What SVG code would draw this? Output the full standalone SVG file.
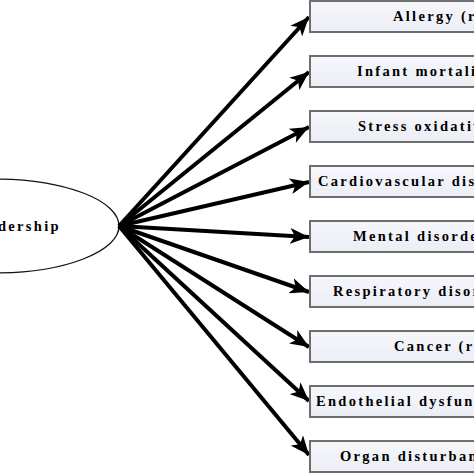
<svg xmlns="http://www.w3.org/2000/svg" width="474" height="474" viewBox="0 0 474 474">
<defs>
<linearGradient id="bf" x1="0" y1="0" x2="0" y2="1">
<stop offset="0" stop-color="#f6f7fb"/>
<stop offset="1" stop-color="#eceef6"/>
</linearGradient>
<marker id="ah" markerUnits="userSpaceOnUse" markerWidth="22" markerHeight="16" refX="19" refY="8" orient="auto">
<path d="M0,0 L19,8 L0,16 L5,8 Z" fill="#000"/>
</marker>
<style>
.box{fill:url(#bf);stroke:#6e6e6e;stroke-width:2}
.t{font-family:"Liberation Serif","Times New Roman",serif;font-weight:bold;font-size:14.5px;letter-spacing:2.3px;fill:#000}
.c{stroke:#000;stroke-width:4;fill:none;marker-end:url(#ah)}
</style>
</defs>
<rect width="474" height="474" fill="#fff"/>
<g id="center">
<ellipse cx="-5" cy="226" rx="124" ry="47" fill="#fff" stroke="#111" stroke-width="1.3"/>
<text class="t" x="-2" y="231">dership</text>
</g>
<g id="connectors">
<line class="c" x1="119" y1="226" x2="309" y2="17"/>
<line class="c" x1="119" y1="226" x2="309" y2="72"/>
<line class="c" x1="119" y1="226" x2="309" y2="127"/>
<line class="c" x1="119" y1="226" x2="309" y2="182"/>
<line class="c" x1="119" y1="226" x2="309" y2="237"/>
<line class="c" x1="119" y1="226" x2="309" y2="292"/>
<line class="c" x1="119" y1="226" x2="309" y2="347"/>
<line class="c" x1="119" y1="226" x2="309" y2="401"/>
<line class="c" x1="119" y1="226" x2="309" y2="455"/>
</g>
<g id="n1"><rect class="box" x="310" y="1" width="200" height="31"/><text class="t" x="393" y="21">Allergy (r</text></g>
<g id="n2"><rect class="box" x="310" y="56" width="200" height="31"/><text class="t" x="357" y="76">Infant mortali</text></g>
<g id="n3"><rect class="box" x="310" y="111" width="200" height="31"/><text class="t" x="358" y="131">Stress oxidativ</text></g>
<g id="n4"><rect class="box" x="310" y="166" width="200" height="31"/><text class="t" x="318" y="186">Cardiovascular dis</text></g>
<g id="n5"><rect class="box" x="310" y="221" width="200" height="31"/><text class="t" x="353" y="241">Mental disorde</text></g>
<g id="n6"><rect class="box" x="310" y="276" width="200" height="31"/><text class="t" x="333" y="296">Respiratory disor</text></g>
<g id="n7"><rect class="box" x="310" y="331" width="200" height="31"/><text class="t" x="394" y="351">Cancer (r</text></g>
<g id="n8"><rect class="box" x="310" y="386" width="200" height="31"/><text class="t" x="316" y="406">Endothelial dysfun</text></g>
<g id="n9"><rect class="box" x="310" y="441" width="200" height="31"/><text class="t" x="340" y="461">Organ disturban</text></g>
</svg>
